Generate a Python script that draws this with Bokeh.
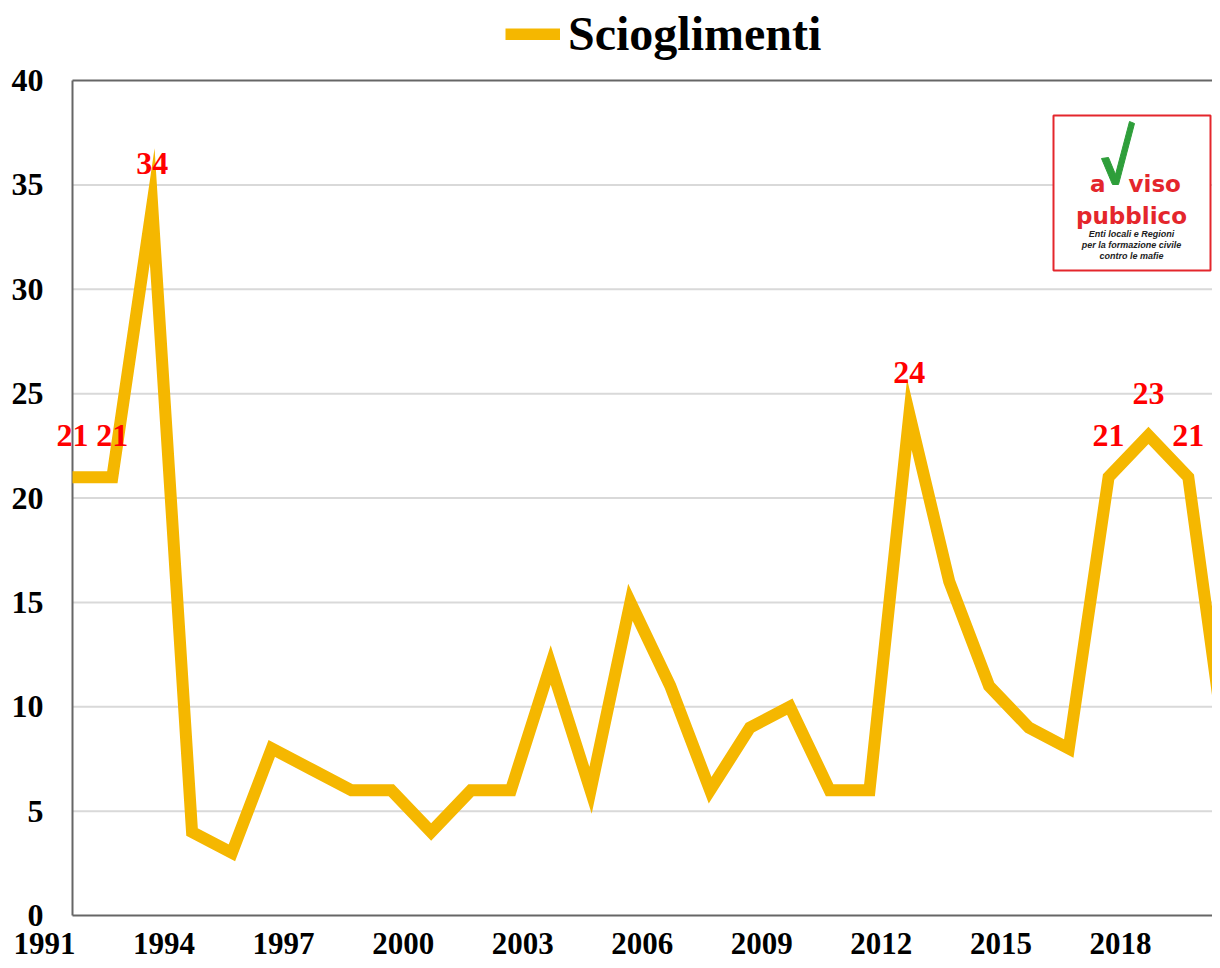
from bokeh.plotting import figure
from bokeh.models import (Range1d, Legend, LegendItem, Label, LabelSet,
                          ColumnDataSource)
from bokeh.embed import file_html
from bokeh.resources import INLINE

# ---------------- data ----------------
years = list(range(1991, 2021))
scioglimenti = [21, 21, 34, 4, 3, 8, 7, 6, 6, 4,
                6, 6, 12, 6, 15, 11, 6, 9, 10, 6,
                6, 24, 16, 11, 9, 8, 21, 23, 21, 7]
labelled_years = [1991, 1992, 1993, 2012, 2017, 2018, 2019]
x_ticks = list(range(1991, 2019, 3))
y_ticks = list(range(0, 41, 5))
series_name = "Scioglimenti"

# ---------------- layout ----------------
W, H = 1212, 960
ORIGIN_X, ORIGIN_Y = 72, 915      # pixel position of (1991, 0)
PX_PER_YEAR = 39.85
PX_PER_UNIT = 20.875
X0 = years[0] - ORIGIN_X / PX_PER_YEAR
X1 = years[0] + (W - ORIGIN_X) / PX_PER_YEAR
Y0 = -(H - ORIGIN_Y) / PX_PER_UNIT
Y1 = ORIGIN_Y / PX_PER_UNIT

SERIF = "Liberation Serif"
LINE_COLOR = "#F5B700"
AXIS_COLOR = "#666666"
GRID_COLOR = "#D9D9D9"


def dx(px):
    return years[0] + (px - ORIGIN_X) / PX_PER_YEAR


def dy(py):
    return (ORIGIN_Y - py) / PX_PER_UNIT


p = figure(width=W, height=H, output_backend="svg", toolbar_location=None,
           x_range=Range1d(X0, X1), y_range=Range1d(Y0, Y1),
           min_border=0, x_axis_type=None, y_axis_type=None)
p.outline_line_color = None
p.grid.visible = False
p.background_fill_color = "white"
p.border_fill_color = "white"

# gridlines and frame lines (from the tick arrays)
x_start, y_lo, y_hi = years[0], y_ticks[0], y_ticks[-1]
inner = y_ticks[1:-1]
p.segment(x0=[x_start] * len(inner), x1=[X1 + 1] * len(inner), y0=inner, y1=inner,
          line_color=GRID_COLOR, line_width=2)
p.segment(x0=[x_start, x_start, x_start], x1=[x_start, X1 + 1, X1 + 1],
          y0=[y_lo, y_lo, y_hi], y1=[y_hi, y_lo, y_hi],
          line_color=AXIS_COLOR, line_width=2)

line = p.line(years, scioglimenti, line_width=12, line_color=LINE_COLOR,
              line_join="miter")

# tick labels
yt_src = ColumnDataSource(dict(x=[x_start] * len(y_ticks), y=y_ticks,
                               t=[str(v) for v in y_ticks]))
p.add_layout(LabelSet(x="x", y="y", text="t", source=yt_src, text_color="black",
                      text_font=SERIF, text_font_style="bold", text_font_size="32px",
                      text_align="right", text_baseline="middle", x_offset=-29))
xt_src = ColumnDataSource(dict(x=x_ticks, y=[y_lo] * len(x_ticks),
                               t=[str(v) for v in x_ticks]))
p.add_layout(LabelSet(x="x", y="y", text="t", source=xt_src, text_color="black",
                      text_font=SERIF, text_font_style="bold", text_font_size="31px",
                      text_align="right", text_baseline="middle",
                      x_offset=3, y_offset=-28))

# data labels
lab_y = [scioglimenti[years.index(y)] for y in labelled_years]
src = ColumnDataSource(dict(x=labelled_years, y=lab_y, t=[str(v) for v in lab_y]))
p.add_layout(LabelSet(x="x", y="y", text="t", source=src, text_color="#FF0000",
                      text_font=SERIF, text_font_style="bold", text_font_size="32px",
                      text_align="center", text_baseline="middle", y_offset=42))

# legend (top centre)
legend = Legend(items=[LegendItem(label=series_name, renderers=[line])],
                orientation="horizontal", location=(505, H - 61),
                label_text_font=SERIF, label_text_font_style="bold",
                label_text_font_size="48px", label_text_color="black",
                glyph_width=55, glyph_height=12, label_standoff=8,
                padding=0, margin=0, border_line_color=None,
                background_fill_alpha=0)
p.add_layout(legend, "center")

# logo
RED = "#E4262C"
p.quad(left=dx(1053), right=dx(1210), top=dy(115), bottom=dy(270),
       fill_color="white", line_color=RED, line_width=2)
check_px = [(1101, 158), (1108, 157), (1115, 174), (1129, 121), (1134, 123),
            (1118, 184), (1112, 184)]
p.patch([dx(a) for a, b in check_px], [dy(b) for a, b in check_px],
        fill_color="#2E9E3A", line_color="#2E9E3A", line_width=1)
logo_font = "DejaVu Sans"
p.add_layout(Label(x=dx(1105), y=dy(183), text="a", text_color=RED,
                   text_font=logo_font, text_font_style="bold", text_font_size="23px",
                   text_align="right", text_baseline="alphabetic"))
p.add_layout(Label(x=dx(1128), y=dy(183), text="viso", text_color=RED,
                   text_font=logo_font, text_font_style="bold", text_font_size="23px",
                   text_align="left", text_baseline="alphabetic"))
p.add_layout(Label(x=dx(1131), y=dy(215), text="pubblico", text_color=RED,
                   text_font=logo_font, text_font_style="bold", text_font_size="23px",
                   text_align="center", text_baseline="alphabetic"))
for i, s in enumerate(["Enti locali e Regioni", "per la formazione civile",
                       "contro le mafie"]):
    p.add_layout(Label(x=dx(1131), y=dy(233 + 11 * i), text=s, text_color="#222222",
                       text_font="Liberation Sans", text_font_style="bold italic",
                       text_font_size="9px", text_align="center",
                       text_baseline="middle"))

open("out.html", "w").write(file_html(p, INLINE))
